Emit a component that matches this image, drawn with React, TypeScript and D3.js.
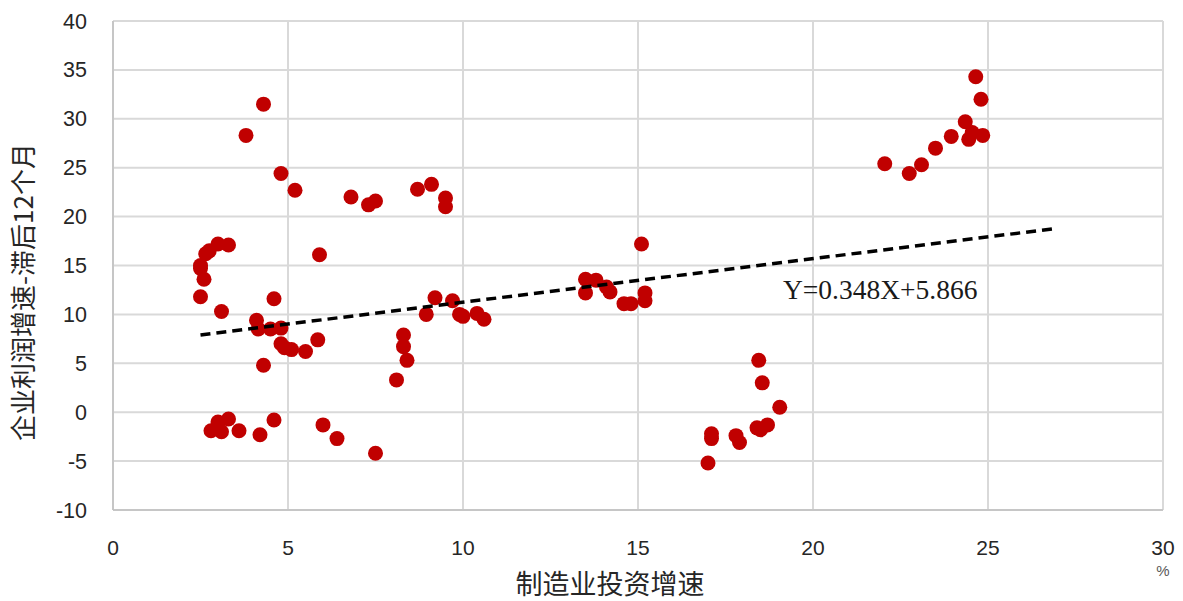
import React from "react";
import * as d3 from "d3";

const xValues = [
  4.3, 3.8, 4.8, 5.2, 6.8, 7.3, 7.5, 8.7, 9.1, 9.5, 9.5, 5.9,
  3.0, 3.3, 2.75, 2.65, 2.5, 2.5, 2.6, 2.5, 3.1, 4.6, 4.1, 4.15, 4.5, 4.8,
  4.8, 4.9, 5.1, 5.5, 5.85, 4.3, 8.95, 9.2, 9.7, 9.9, 10.0, 10.4, 10.6,
  8.3, 8.3, 8.4, 8.1,
  2.8, 3.0, 3.1, 3.3, 3.6, 4.2, 4.6, 6.0, 6.4, 7.5,
  15.1, 13.5, 13.8, 13.5, 14.1, 14.2, 14.6, 14.8, 15.2, 15.2,
  18.45, 18.55, 19.05, 17.1, 17.1, 17.0, 17.8, 17.9, 18.4, 18.5, 18.7,
  24.65, 24.8, 24.35, 24.55, 24.45, 24.85, 23.95, 23.5, 23.1, 22.75, 22.05,
];
const yValues = [
  31.5, 28.3, 24.4, 22.7, 22.0, 21.2, 21.6, 22.8, 23.3, 21.9, 21.0, 16.1,
  17.2, 17.1, 16.5, 16.2, 15.0, 14.7, 13.6, 11.8, 10.3, 11.6, 9.4, 8.5, 8.5, 8.6,
  7.0, 6.6, 6.4, 6.2, 7.4, 4.8, 10.0, 11.7, 11.4, 10.0, 9.8, 10.1, 9.5,
  7.9, 6.7, 5.3, 3.3,
  -1.9, -1.0, -2.0, -0.7, -1.9, -2.3, -0.8, -1.3, -2.7, -4.2,
  17.2, 13.6, 13.5, 12.2, 12.8, 12.3, 11.1, 11.1, 12.2, 11.4,
  5.3, 3.0, 0.5, -2.2, -2.7, -5.2, -2.4, -3.1, -1.6, -1.8, -1.3,
  34.3, 32.0, 29.7, 28.6, 27.9, 28.3, 28.2, 27.0, 25.3, 24.4, 25.4,
];
const trendX = [2.5, 26.85];
const trendY = [7.9, 18.75];
const xTicks = [0, 5, 10, 15, 20, 25, 30];
const yTicks = [-10, -5, 0, 5, 10, 15, 20, 25, 30, 35, 40];
const equationLabel = "Y=0.348X+5.866";
const xTitle = "制造业投资增速";
const yTitle = "企业利润增速-滞后12个月";
const unitLabel = "%";

export default function App() {
  const W = 1183, H = 601;
  const x = d3.scaleLinear().domain([0, 30]).range([113, 1163]);
  const y = d3.scaleLinear().domain([-10, 40]).range([510, 21]);
  const line = d3.line<number>().x((d) => x(trendX[d])).y((d) => y(trendY[d]));
  const cjk = "'Noto Sans CJK SC', 'Noto Sans', sans-serif";
  return (
    <svg width={W} height={H} style={{ position: "absolute", left: 0, top: 0, background: "#fff" }}>
      <rect width={W} height={H} fill="#fff" />
      {yTicks.map((t) => (
        <line key={"gy" + t} x1={x(0)} x2={x(30)} y1={y(t)} y2={y(t)} stroke="#d9d9d9" strokeWidth={2} />
      ))}
      {xTicks.map((t) => (
        <line key={"gx" + t} x1={x(t)} x2={x(t)} y1={y(40)} y2={y(-10)} stroke="#d9d9d9" strokeWidth={2} />
      ))}
      <line x1={x(0)} x2={x(0)} y1={y(40)} y2={y(-10)} stroke="#bfbfbf" strokeWidth={1.5} />
      <line x1={x(0)} x2={x(30)} y1={y(-10)} y2={y(-10)} stroke="#bfbfbf" strokeWidth={1.5} />
      {xValues.map((v, i) => (
        <circle key={"p" + i} cx={x(v)} cy={y(yValues[i])} r={7.5} fill="#C00000" />
      ))}
      <path d={line([0, 1]) || ""} fill="none" stroke="#000" strokeWidth={3.5} strokeDasharray="10,6" />
      <text x={783} y={299} fontFamily="'Liberation Serif', 'Times New Roman', serif" fontSize={27.5} fill="#1a1a1a">
        {equationLabel}
      </text>
      {yTicks.map((t) => (
        <text key={"ty" + t} x={87} y={y(t)} dy="0.35em" textAnchor="end" fontFamily="'Liberation Sans', Arial, sans-serif" fontSize={21.5} fill="#262626">
          {t}
        </text>
      ))}
      {xTicks.map((t) => (
        <text key={"tx" + t} x={x(t)} y={548} dy="0.35em" textAnchor="middle" fontFamily="'Liberation Sans Narrow', 'Liberation Sans', Arial, sans-serif" fontSize={21} fill="#262626">
          {t}
        </text>
      ))}
      <text x={1163} y={576} textAnchor="middle" fontFamily="'Liberation Sans', Arial, sans-serif" fontSize={15} fill="#595959">
        {unitLabel}
      </text>
      <text x={610} y={585} dy="0.35em" textAnchor="middle" fontFamily={cjk} fontSize={27} fill="#262626">
        {xTitle}
      </text>
      <text transform={`translate(24,292) rotate(-90)`} dy="0.35em" textAnchor="middle" fontFamily={cjk} fontSize={26} fill="#262626">
        {yTitle}
      </text>
    </svg>
  );
}
